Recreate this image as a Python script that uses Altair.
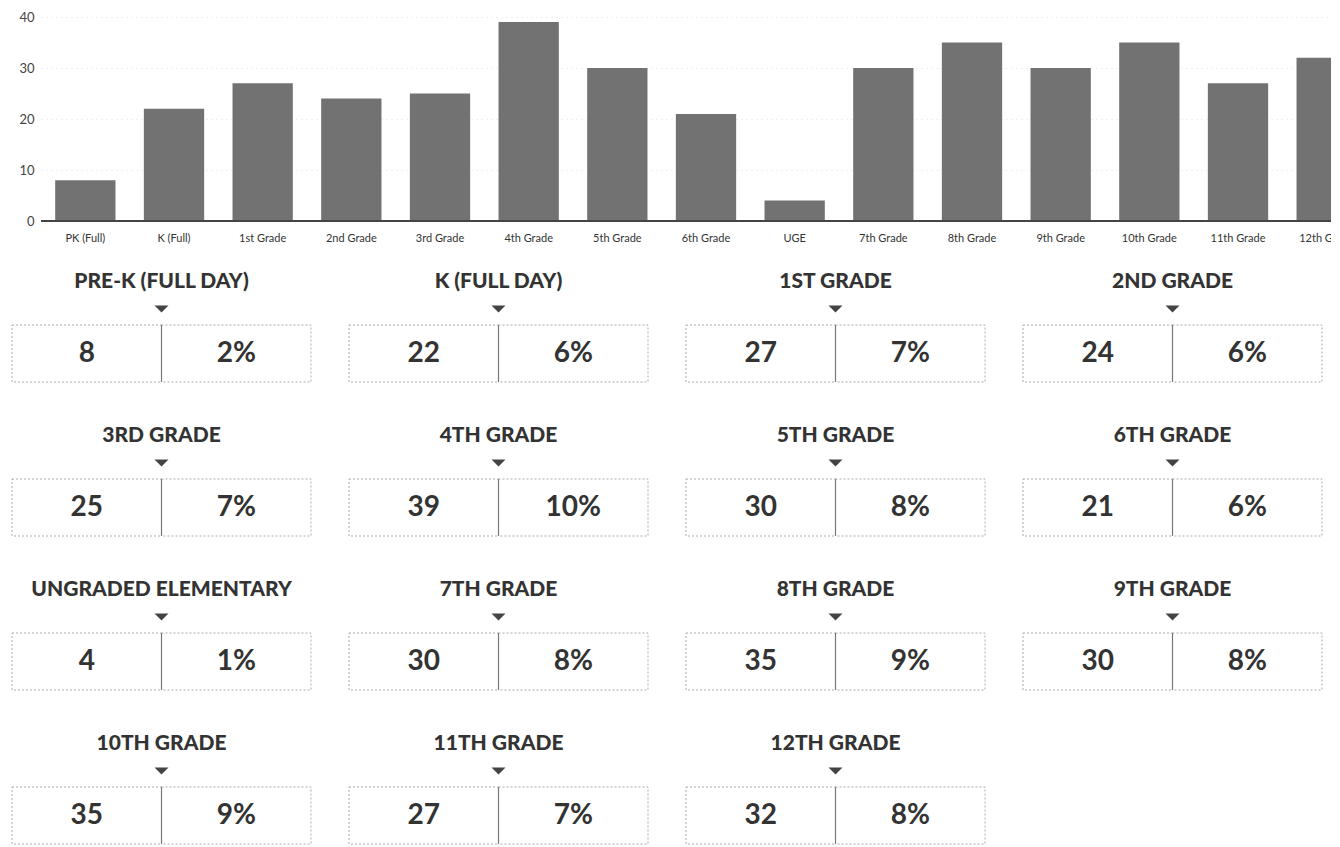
import altair as alt
import pandas as pd

grades = ["PK (Full)", "K (Full)", "1st Grade", "2nd Grade", "3rd Grade", "4th Grade",
          "5th Grade", "6th Grade", "UGE", "7th Grade", "8th Grade", "9th Grade",
          "10th Grade", "11th Grade", "12th Grade"]
titles = ["PRE-K (FULL DAY)", "K (FULL DAY)", "1ST GRADE", "2ND GRADE", "3RD GRADE",
          "4TH GRADE", "5TH GRADE", "6TH GRADE", "UNGRADED ELEMENTARY", "7TH GRADE",
          "8TH GRADE", "9TH GRADE", "10TH GRADE", "11TH GRADE", "12TH GRADE"]
counts = [8, 22, 27, 24, 25, 39, 30, 21, 4, 30, 35, 30, 35, 27, 32]
pcts = [2, 6, 7, 6, 7, 10, 8, 6, 1, 8, 9, 8, 9, 7, 8]
y_ticks = [0, 10, 20, 30, 40]
sides = ["count", "pct"]

bar_df = pd.DataFrame({"grade": grades, "count": counts})
rows = []
for t, c, p in zip(titles, counts, pcts):
    rows.append({"title": t, "side": "count", "label": str(c)})
    rows.append({"title": t, "side": "pct", "label": f"{p}%"})
card_df = pd.DataFrame(rows)

FONT = "Lato"
INK = "#333333"

# ---------- top bar chart ----------
x_enc = alt.X("grade:N", sort=grades, title=None, axis=None,
              scale=alt.Scale(range=[0, 1330], paddingInner=0.32, paddingOuter=0.16))
y_scale = alt.Scale(domain=[0, 40], range=[204, 0])

bar_layer = alt.Chart().mark_bar(color="#727272", clip=True).encode(
    x=x_enc,
    y=alt.Y("count:Q", title=None, scale=y_scale,
            axis=alt.Axis(values=y_ticks, domain=False, ticks=False, labelFont=FONT,
                          labelFontSize=13, labelColor="#444", labelPadding=7,
                          minExtent=28, gridColor="#cccccc", gridDash=[1, 4],
                          gridOpacity=0.6)),
)
base_rule = alt.Chart().mark_rule(color="#444", strokeWidth=1.5, clip=True).encode(
    y=alt.datum(0)
)
x_labels = alt.Chart().mark_text(font=FONT, fontSize=11, color=INK, dy=18,
                                 baseline="middle", clip=True).encode(
    x=x_enc, y=alt.datum(0), text="grade:N"
)
bars = alt.layer(bar_layer, base_rule, x_labels, data=bar_df).properties(width=1290, height=232)

spacer = alt.Chart(pd.DataFrame({"v": [0]})).mark_point(size=0, opacity=0).properties(
    width=1, height=1)
top = alt.hconcat(spacer, bars, spacing=0)

# ---------- cards ----------
side_scale = alt.Scale(paddingInner=0, paddingOuter=0)
box = alt.Chart().mark_rect(fill="white", stroke="#aaaaaa", strokeDash=[2, 2],
                            strokeWidth=1).encode(
    x=alt.X("side:N", sort=sides, axis=None, scale=side_scale)
)
divider = alt.Chart().transform_filter("datum.side == 'pct'").mark_rule(
    color="#777", strokeWidth=1.2
).encode(x=alt.X("side:N", sort=sides, axis=None, scale=side_scale, bandPosition=0))
nums = alt.Chart().mark_text(font=FONT, fontWeight="bold", fontSize=28, color=INK).encode(
    x=alt.X("side:N", sort=sides, axis=None, scale=side_scale),
    text="label:N",
)
tri = alt.Chart().transform_filter("datum.side == 'count'").mark_point(
    shape="M-1,-0.5L1,-0.5L0,0.5Z", filled=True, color="#444", size=196, opacity=1
).encode(y=alt.value(-16))

cards = alt.layer(box, divider, nums, tri, data=card_df).properties(width=299, height=57).facet(
    facet=alt.Facet("title:N", sort=titles, title=None,
                    header=alt.Header(labelFont=FONT, labelFontWeight=900, labelFontSize=21,
                                      labelColor=INK, labelPadding=14)),
    columns=4,
    spacing={"row": 41, "column": 36},
)

chart = alt.vconcat(top, cards, spacing=21).configure_view(
    stroke=None
).properties(padding={"left": 3, "top": 3, "right": 0, "bottom": 0}, background="white")

chart.save("out.html", embed_options={"renderer": "svg", "actions": False})
